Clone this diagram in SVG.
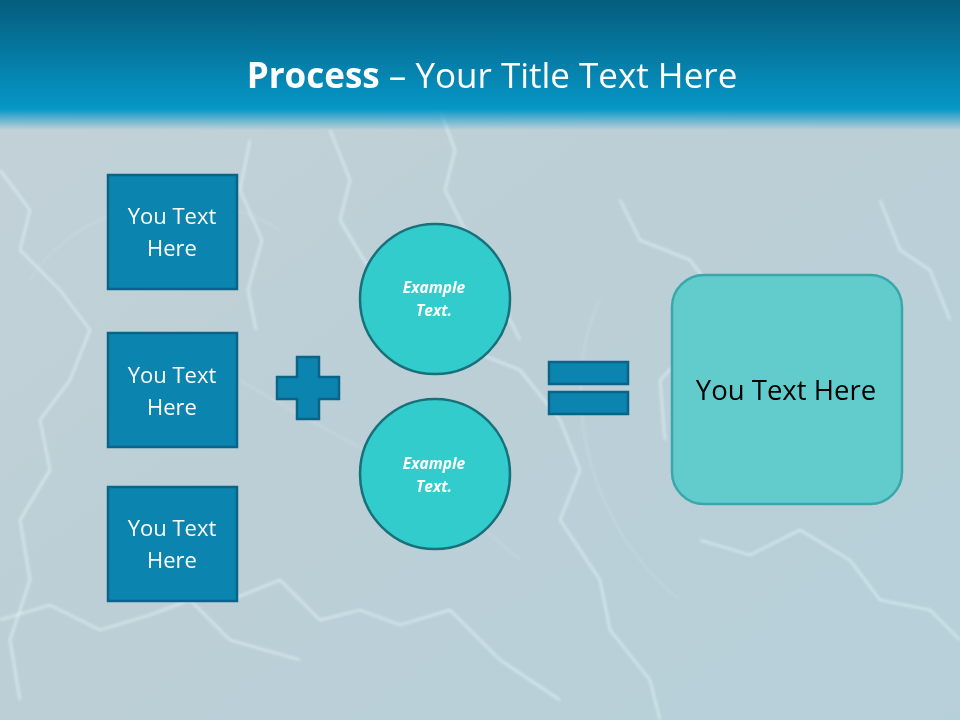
<svg xmlns="http://www.w3.org/2000/svg" width="960" height="720" viewBox="0 0 960 720">
<defs>
<linearGradient id="hdr" x1="0" y1="0" x2="0" y2="1">
<stop offset="0" stop-color="#055d7d"/>
<stop offset="0.8" stop-color="#0694c4"/>
<stop offset="0.84" stop-color="#0797c8"/>
<stop offset="1" stop-color="#0797c8" stop-opacity="0"/>
</linearGradient>
<linearGradient id="bg" x1="0" y1="0" x2="1" y2="1">
<stop offset="0" stop-color="#c3d2d8"/>
<stop offset="0.5" stop-color="#bccfd6"/>
<stop offset="1" stop-color="#b6d0da"/>
</linearGradient>
<filter id="glow" x="-10%" y="-10%" width="120%" height="120%">
<feGaussianBlur stdDeviation="1.5"/>
</filter>
<style>
.box{fill:#0b84b0;stroke:#0a6388;stroke-width:2.5}
.btxt{font-family:"Open Sans","Noto Sans",sans-serif;font-size:22px;fill:#ffffff;text-anchor:middle}
.circ{fill:#33cccc;stroke:#17707a;stroke-width:2.5}
.ctxt{font-family:"Open Sans","Noto Sans",sans-serif;font-size:15.5px;font-weight:bold;font-style:italic;fill:#ffffff;text-anchor:middle}
.op{fill:#0b84b0;stroke:#0a6388;stroke-width:2.5}
.bolt{fill:none;stroke:#e9fcff;stroke-width:1.6;opacity:0.8}
.arc{fill:none;stroke:#d8eef4;stroke-width:1;opacity:0.6}
</style>
</defs>
<rect width="960" height="720" fill="url(#bg)"/>
<g id="background-light" filter="url(#glow)">
<path class="bolt" d="M0 170 L30 210 L20 250 L60 290 L90 330 L70 380 L40 420 L50 470 L20 520 L30 580 L10 640 L20 700"/>
<path class="bolt" d="M330 130 L350 180 L340 220 L370 270 L390 330 L430 360 L470 350 L520 370 L560 420 L580 470 L560 520 L600 580 L610 630 L650 680 L660 720"/>
<path class="bolt" d="M440 110 L455 150 L445 190 L470 240 L490 280 L520 340"/>
<path class="bolt" d="M620 200 L640 240 L690 260 L720 300 L700 340 L660 380 L665 440"/>
<path class="bolt" d="M230 600 L280 580 L320 620 L360 610 L400 625 L450 610 L500 660 L560 700"/>
<path class="bolt" d="M0 620 L50 605 L100 630 L150 615 L190 600 L230 640 L300 660"/>
<path class="bolt" d="M700 540 L750 555 L800 530 L850 560 L880 600 L930 610 L960 640"/>
<path class="bolt" d="M250 140 L240 190 L262 240 L248 290 L256 330"/>
<path class="bolt" d="M880 200 L900 250 L930 270 L950 320"/>
<path class="arc" d="M240 380 C320 430 420 470 520 560"/>
<path class="arc" d="M600 300 C560 380 580 520 680 600"/>
<path class="arc" d="M30 280 C80 200 200 180 280 230"/>
</g>
<rect x="0" y="0" width="960" height="130" fill="url(#hdr)"/>
<text x="492" y="88" text-anchor="middle" font-family="Open Sans,Noto Sans,sans-serif" font-size="35" fill="#ffffff"><tspan font-weight="bold">Process</tspan> – Your Title Text Here</text>
<g id="box1">
<rect class="box" x="108" y="175" width="129" height="114"/>
<text class="btxt" x="172" y="224">You Text</text>
<text class="btxt" x="172" y="256">Here</text>
</g>
<g id="box2">
<rect class="box" x="108" y="333" width="129" height="114"/>
<text class="btxt" x="172" y="383">You Text</text>
<text class="btxt" x="172" y="415">Here</text>
</g>
<g id="box3">
<rect class="box" x="108" y="487" width="129" height="114"/>
<text class="btxt" x="172" y="536">You Text</text>
<text class="btxt" x="172" y="568">Here</text>
</g>
<g id="plus">
<path class="op" d="M297 357 H319 V377 H339 V399 H319 V419 H297 V399 H277 V377 H297 Z"/>
</g>
<g id="circle1">
<circle class="circ" cx="435" cy="299" r="75"/>
<text class="ctxt" x="434" y="293">Example</text>
<text class="ctxt" x="434" y="316">Text.</text>
</g>
<g id="circle2">
<circle class="circ" cx="435" cy="474" r="75"/>
<text class="ctxt" x="434" y="469">Example</text>
<text class="ctxt" x="434" y="492">Text.</text>
</g>
<g id="equals">
<rect class="op" x="549" y="362" width="79" height="22"/>
<rect class="op" x="549" y="392" width="79" height="22"/>
</g>
<g id="result">
<rect x="672" y="275" width="230" height="229" rx="32" fill="#62cccc" stroke="#3aa8ab" stroke-width="2.5"/>
<text x="786" y="400" text-anchor="middle" font-family="Open Sans,Noto Sans,sans-serif" font-size="27.5" fill="#000000">You Text Here</text>
</g>
<g id="connectors"></g>
</svg>
